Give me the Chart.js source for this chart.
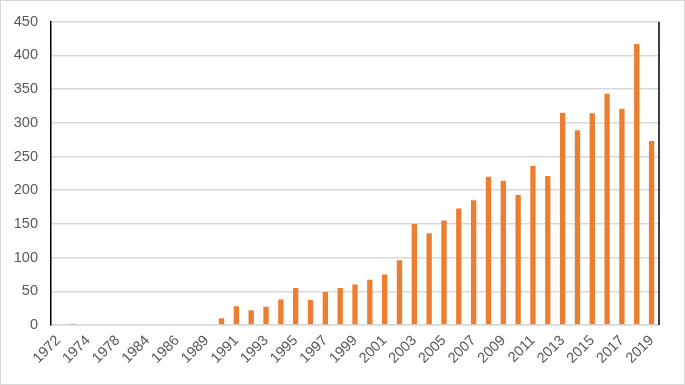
<!DOCTYPE html>
<html>
<head>
<meta charset="utf-8">
<script src="https://cdn.jsdelivr.net/npm/chart.js@4"></script>
<style>
html,body{margin:0;padding:0;background:#fff;}
#wrap{width:685px;height:385px;position:relative;}
</style>
</head>
<body>
<div id="wrap"><canvas id="c" width="685" height="385"></canvas></div>
<script>
const categories = ['1972','1973','1974','1977','1978','1983','1984','1985','1986','1988','1989',
  '1990','1991','1992','1993','1994','1995','1996','1997','1998','1999','2000','2001','2002','2003','2004',
  '2005','2006','2007','2008','2009','2010','2011','2012','2013','2014','2015','2016','2017','2018','2019'];
const counts = [0,2,0,0,0,0,0,0,0,0,0,
  10,28,22,27,38,55,37,49,55,60,67,75,96,150,136,
  155,173,185,220,214,193,236,221,315,289,314,343,321,417,273];
const yTicks = [0,50,100,150,200,250,300,350,400,450];

const framePlugin = {
  id:'frame',
  afterDraw(chart){
    const ctx = chart.ctx, a = chart.chartArea;
    ctx.save();
    ctx.strokeStyle = '#000';
    ctx.lineWidth = 1.5;
    ctx.beginPath();
    ctx.moveTo(a.right, a.top);
    ctx.lineTo(a.right, a.bottom);
    ctx.stroke();
    ctx.strokeStyle = '#d9d9d9';
    ctx.lineWidth = 1;
    ctx.strokeRect(0.5, 0.5, chart.width-1, chart.height-1);
    ctx.restore();
  }
};

new Chart(document.getElementById('c'), {
  type:'bar',
  data:{
    labels: categories,
    datasets:[{data: counts, backgroundColor:'#ED7D31', barPercentage:0.36, categoryPercentage:1.0}]
  },
  options:{
    responsive:false,
    animation:false,
    layout:{padding:{top:20,right:26,left:0,bottom:0}},
    plugins:{legend:{display:false},tooltip:{enabled:false}},
    scales:{
      x:{
        grid:{display:false, drawTicks:false},
        border:{display:true,color:'#d9d9d9',width:1.5},
        ticks:{
          autoSkip:false, maxRotation:45, minRotation:45, padding:7,
          color:'#595959', font:{family:'Liberation Sans', size:14.5},
          callback:function(v,i){ return i%2===0 ? categories[i] : ''; }
        },
        afterFit(s){ s.height = 60; }
      },
      y:{
        min:0, max:450,
        afterBuildTicks(s){ s.ticks = yTicks.map(v=>({value:v})); },
        grid:{color:'#d9d9d9', lineWidth:1.5, drawTicks:false},
        border:{display:true,color:'#000',width:1.5},
        ticks:{color:'#595959', padding:13, font:{family:'Liberation Sans', size:14.5}},
        afterFit(s){ s.width = 51; }
      }
    }
  },
  plugins:[framePlugin]
});
</script>
</body>
</html>
